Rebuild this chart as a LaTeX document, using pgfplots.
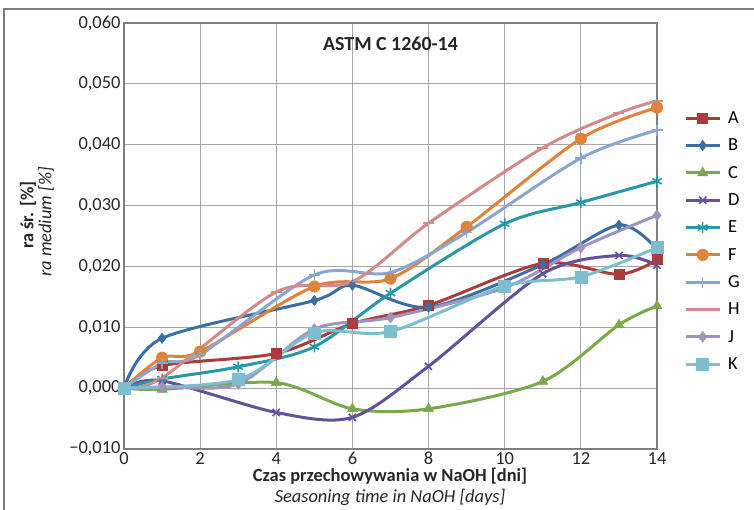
\documentclass[border=0pt]{standalone}
\usepackage{fontspec}
\setmainfont{Carlito}
\usepackage{pgfplots}
\pgfplotsset{compat=1.18}

\definecolor{cA}{HTML}{AA3D3C}
\definecolor{cB}{HTML}{3A6EA5}
\definecolor{cC}{HTML}{7BA84C}
\definecolor{cD}{HTML}{65509A}
\definecolor{cE}{HTML}{2A97A8}
\definecolor{cF}{HTML}{E0833A}
\definecolor{cG}{HTML}{8AA6D0}
\definecolor{cH}{HTML}{D48A8A}
\definecolor{cJ}{HTML}{A193C0}
\definecolor{cK}{HTML}{7DBDD0}
\definecolor{gridc}{HTML}{A6A6A6}
\definecolor{boxc}{HTML}{7F7F7F}

\begin{document}
\begin{tikzpicture}[x=1bp,y=1bp]
\useasboundingbox (0,0) rectangle (754,510);
\draw[boxc, line width=1.2bp] (4,0) -- (4,501) -- (754,501);

\begin{axis}[
    at={(124bp,61bp)}, anchor=south west,
    scale only axis, width=533bp, height=426bp,
    xmin=0, xmax=14, ymin=-0.01, ymax=0.06,
    xtick={0,2,4,6,8,10,12,14},
    ytick={-0.01,0,0.01,0.02,0.03,0.04,0.05,0.06},
    yticklabels={{−0,010},{0,000},{0,010},{0,020},{0,030},{0,040},{0,050},{0,060}},
    scaled y ticks=false,
    /pgf/number format/assume math mode=true,
    tick label style={font=\fontsize{18.5}{20}\selectfont, text=black!85},
    xticklabel style={inner ysep=0.5bp, yshift=-2.5bp},
    major tick length=0pt,
    grid=major,
    major grid style={gridc, line width=1bp},
    axis line style={boxc, line width=1.2bp},
    clip=false,
    every axis plot/.append style={smooth, line width=3bp},
    legend style={draw=none, fill=none, at={(1.045,0.802)}, anchor=north west,
        font=\fontsize{18.5}{20}\selectfont, row sep=10bp,
        legend cell align=left,
        /tikz/every odd column/.append style={column sep=5bp}},
    legend image code/.code={
        \draw[mark repeat=2, mark phase=2] plot coordinates {(0bp,0bp)(17bp,0bp)(34bp,0bp)};
    },
]

\addplot[cA, mark=square*, mark size=5bp, mark options={solid, line width=0.5bp}] coordinates {
    (0,0) (1,0.0037) (4,0.0057) (6,0.0106) (8,0.0136) (11,0.0205) (13,0.0187) (14,0.0211)
};
\addlegendentry{A}
\addplot[cB, mark=diamond*, mark size=5.2bp, mark options={solid, line width=0.5bp}] coordinates {
    (0,0) (1,0.0082) (5,0.0144) (6,0.0169) (8,0.0133) (11,0.0203) (13,0.0268) (14,0.0228)
};
\addlegendentry{B}
\addplot[cC, mark=triangle*, mark size=5.8bp, mark options={solid, line width=0.5bp}] coordinates {
    (0,0) (1,-0.0002) (4,0.0009) (6,-0.0034) (8,-0.0034) (11,0.0011) (13,0.0104) (14,0.0135)
};
\addlegendentry{C}
\addplot[cD, mark=x, mark size=5bp, mark options={solid, line width=1.6bp}] coordinates {
    (0,0) (1,0.0012) (4,-0.0040) (6,-0.0048) (8,0.0036) (11,0.0188) (13,0.0218) (14,0.0202)
};
\addlegendentry{D}
\addplot[cE, mark=asterisk, mark size=5.5bp, mark options={solid, line width=1.6bp}] coordinates {
    (0,0) (1,0.0015) (3,0.0035) (5,0.0068) (7,0.0156) (10,0.0270) (12,0.0305) (14,0.0340)
};
\addlegendentry{E}
\addplot[cF, mark=*, mark size=5.8bp, mark options={solid, line width=0.5bp}] coordinates {
    (0,0) (1,0.0050) (2,0.0060) (5,0.0167) (7,0.0180) (9,0.0265) (12,0.0410) (14,0.0461)
};
\addlegendentry{F}
\addplot[cG, mark=+, mark size=5.5bp, mark options={solid, line width=1.6bp}] coordinates {
    (0,0) (1,0.0041) (2,0.0055) (5,0.0186) (7,0.0190) (9,0.0256) (12,0.0378) (14,0.0424)
};
\addlegendentry{G}
\addplot[cH, mark=-, mark size=5.5bp, mark options={solid, line width=1.6bp}] coordinates {
    (0,0) (1,0.0017) (4,0.0158) (6,0.0175) (8,0.0271) (11,0.0395) (13,0.0452) (14,0.0472)
};
\addlegendentry{H}
\addplot[cJ, mark=diamond*, mark size=5.5bp, mark options={solid, line width=0.5bp}] coordinates {
    (0,0) (1,0.0002) (3,0.0007) (5,0.0097) (7,0.0116) (10,0.0165) (12,0.0231) (14,0.0284)
};
\addlegendentry{J}
\addplot[cK, mark=square*, mark size=6bp, mark options={solid, line width=0.5bp}] coordinates {
    (0,0) (3,0.0014) (5,0.0091) (7,0.0093) (10,0.0168) (12,0.0183) (14,0.0231)
};
\addlegendentry{K}

\node[font=\bfseries\fontsize{20}{22}\selectfont, text=black!85] at (axis cs:7,0.0566) {ASTM C 1260-14};
\end{axis}

\node[inner sep=0pt, font=\bfseries\fontsize{18.5}{20}\selectfont, text=black!85] at (390,34) {Czas przechowywania w NaOH [dni]};
\node[inner sep=0pt, font=\itshape\fontsize{18.5}{20}\selectfont, text=black!85] at (390,13) {Seasoning time in NaOH [days]};
\node[inner sep=0pt, font=\bfseries\fontsize{18.5}{20}\selectfont, text=black!85, rotate=90] at (28,295) {ra śr. [\%]};
\node[inner sep=0pt, font=\itshape\fontsize{18.5}{20}\selectfont, text=black!85, rotate=90] at (46,288) {ra medium [\%]};
\end{tikzpicture}
\end{document}
